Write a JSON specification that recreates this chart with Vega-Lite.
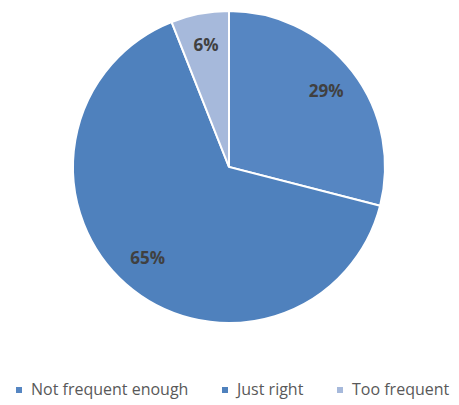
{
  "$schema": "https://vega.github.io/schema/vega-lite/v6.json",
  "width": 458,
  "height": 334,
  "autosize": {"type": "none"},
  "padding": {"left": 0, "top": 0, "right": 1, "bottom": 71},
  "background": "white",
  "data": {
    "values": [
      {"category": "Not frequent enough", "value": 29, "label": "29%", "idx": 1},
      {"category": "Just right", "value": 65, "label": "65%", "idx": 2},
      {"category": "Too frequent", "value": 6, "label": "6%", "idx": 3}
    ]
  },
  "encoding": {
    "theta": {"field": "value", "type": "quantitative", "stack": true},
    "order": {"field": "idx", "type": "quantitative"}
  },
  "layer": [
    {
      "mark": {"type": "arc", "outerRadius": 156, "stroke": "white", "strokeWidth": 2},
      "encoding": {
        "color": {
          "field": "category",
          "type": "nominal",
          "sort": ["Not frequent enough", "Just right", "Too frequent"],
          "scale": {
            "domain": ["Not frequent enough", "Just right", "Too frequent"],
            "range": ["#5686c2", "#4f81bd", "#a6b9db"]
          },
          "legend": {
            "title": null,
            "orient": "none",
            "direction": "horizontal",
            "legendX": 11,
            "legendY": 382,
            "symbolType": "square",
            "symbolSize": 36,
            "symbolStrokeWidth": 0,
            "labelFont": "Open Sans",
            "labelFontSize": 16,
            "labelColor": "#595959",
            "labelOffset": 4,
            "columnPadding": 28,
            "labelLimit": 300
          }
        }
      }
    },
    {
      "mark": {"type": "text", "radius": 123, "font": "Open Sans", "fontSize": 17, "fontWeight": "bold", "fill": "#404040"},
      "encoding": {
        "text": {"field": "label", "type": "nominal"}
      }
    }
  ]
}
